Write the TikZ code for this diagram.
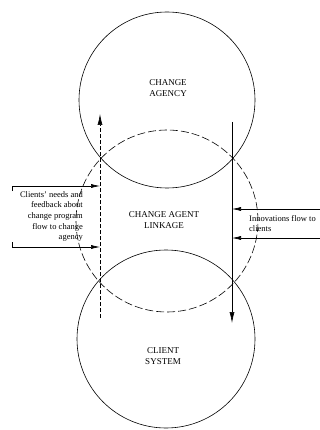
\documentclass[tikz,border=0pt]{standalone}
\usepackage{fontspec}
\setmainfont{Liberation Serif}
\usetikzlibrary{arrows.meta}

\begin{document}
\begin{tikzpicture}[x=1pt,y=-1pt,
		ring/.style={circle,draw,line width=0.6pt,inner sep=0pt},
		flow/.style={line width=0.6pt},
		bigtip/.style={-{Latex[length=11pt,width=5pt]}},
		smalltip/.style={-{Latex[length=9pt,width=4pt]}},
		title/.style={align=center,font=\fontsize{9}{11}\selectfont},
		note/.style={font=\fontsize{8.5}{10.7}\selectfont,inner sep=0pt}]
		\useasboundingbox (0,0) rectangle (320,430);
		% the three circles
		\node[ring,minimum size=176pt] (agency) at (167,100) {};
		\node[ring,minimum size=178pt] (client) at (166,339) {};
		\node[ring,minimum size=182pt,dash pattern=on 8pt off 3pt] (linkage) at (167,221) {};
		\node[title] (agencytext) at (168,88) {CHANGE\\AGENCY};
		\node[title] (linktext) at (164,220) {CHANGE AGENT\\LINKAGE};
		\node[title] (clienttext) at (163,356) {CLIENT\\SYSTEM};
		% feedback flows up, innovations flow down
		\coordinate (up start) at (100,318);
		\coordinate (up end) at (100,114);
		\coordinate (down start) at (232,122);
		\coordinate (down end) at (232,323);
		\draw[flow,bigtip,dash pattern=on 4pt off 2pt] (up start) -- (up end);
		\draw[flow,bigtip] (down start) -- (down end);
		% left bracket
		\coordinate (fb top) at (12,186);
		\coordinate (fb bot) at (12,247);
		\draw[flow,smalltip] ([yshift=-5pt]fb top) -- (fb top) -- (fb top -| up start);
		\draw[flow,smalltip] ([yshift=5pt]fb bot) -- (fb bot) -- (fb bot -| up start);
		\node[note,align=right,anchor=east] (fbtext) at (83,216.5)
			{Clients' needs and\\feedback about\\change program\\flow to change\\agency};
		% right bracket
		\coordinate (in top) at (324,209);
		\coordinate (in bot) at (324,238);
		\draw[flow,smalltip] (in top) -- (in top -| down start);
		\draw[flow,smalltip] (in bot) -- (in bot -| down start);
		\node[note,align=left,anchor=west] (intext) at (249,223.5) {Innovations flow to\\clients};
	\end{tikzpicture}
\end{document}
